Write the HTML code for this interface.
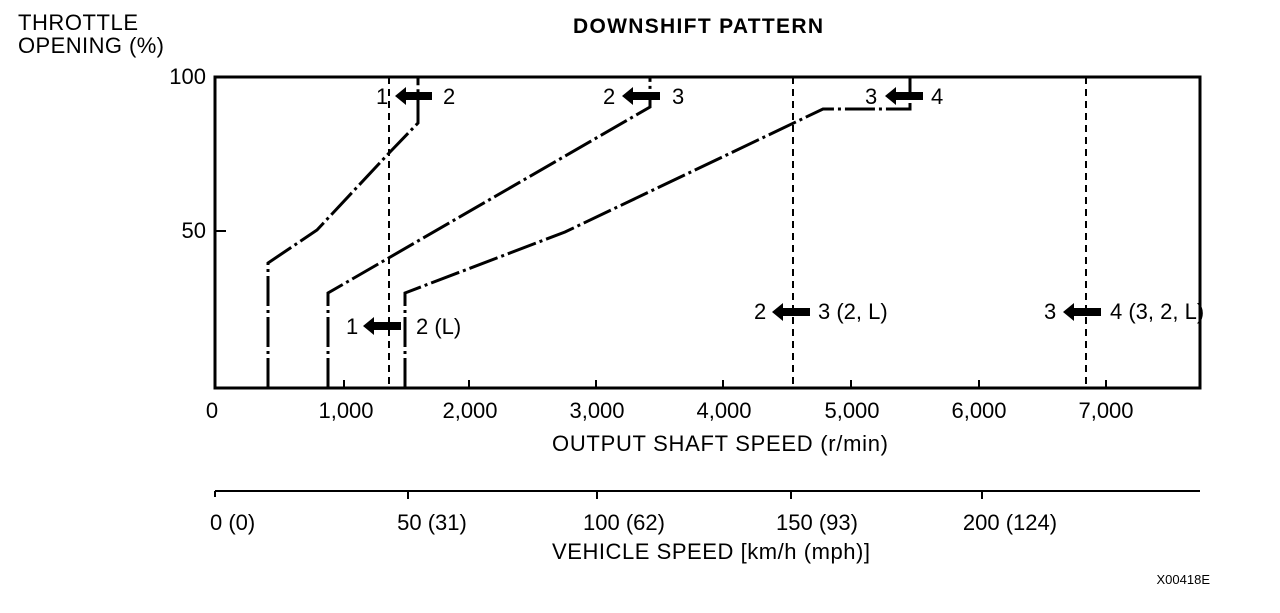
<!DOCTYPE html>
<html><head><meta charset="utf-8"><style>
html,body{margin:0;padding:0;background:#fff}
svg text{font-family:"Liberation Sans",Arial,sans-serif;font-size:22px;fill:#000}
</style></head><body>
<svg width="1280" height="608" viewBox="0 0 1280 608" xmlns="http://www.w3.org/2000/svg">
<text x="18" y="30" textLength="120">THROTTLE</text>
<text x="18" y="53" textLength="146">OPENING (%)</text>
<text x="573" y="33" style="font-weight:bold;font-size:21px" textLength="250">DOWNSHIFT PATTERN</text>
<text x="206" y="84" text-anchor="end">100</text>
<text x="206" y="238" text-anchor="end">50</text>
<g stroke="#000" fill="none">
<rect x="215" y="77" width="985" height="311" stroke-width="3"/>
<line x1="215" y1="231" x2="226" y2="231" stroke-width="2"/>
<g stroke-width="2"><line x1="344" y1="388" x2="344" y2="380"/><line x1="469" y1="388" x2="469" y2="380"/><line x1="596" y1="388" x2="596" y2="380"/><line x1="723" y1="388" x2="723" y2="380"/><line x1="851" y1="388" x2="851" y2="380"/><line x1="979" y1="388" x2="979" y2="380"/><line x1="1106" y1="388" x2="1106" y2="380"/></g>
<g stroke-width="3" stroke-dasharray="30 4 3 4">
<polyline points="268,388 268,263 317,230 390,152 418,123 418,77"/>
<polyline points="328,388 328,293 650,107 650,77"/>
<polyline points="405,388 405,293 565,232 823,109 910,109 910,77"/>
</g>
<g stroke-width="2" stroke-dasharray="7 5">
<line x1="389" y1="77" x2="389" y2="388"/>
<line x1="793" y1="77" x2="793" y2="388"/>
<line x1="1086" y1="77" x2="1086" y2="388"/>
</g>
<line x1="215" y1="491" x2="1200" y2="491" stroke-width="2"/>
<g stroke-width="2"><line x1="215" y1="491" x2="215" y2="497"/><line x1="408" y1="491" x2="408" y2="499"/><line x1="597" y1="491" x2="597" y2="499"/><line x1="791" y1="491" x2="791" y2="499"/><line x1="982" y1="491" x2="982" y2="499"/></g>
</g>
<g fill="#000">
<path d="M395,96 l11,-9 v5 h26 v8 h-26 v5z"/>
<path d="M622,96 l11,-9 v5 h27 v8 h-27 v5z"/>
<path d="M885,96 l11,-9 v5 h27 v8 h-27 v5z"/>
<path d="M363,326 l11,-9 v5 h27 v8 h-27 v5z"/>
<path d="M772,312 l11,-9 v5 h27 v8 h-27 v5z"/>
<path d="M1063,312 l11,-9 v5 h27 v8 h-27 v5z"/>
</g>
<text x="376" y="104">1</text><text x="443" y="104">2</text>
<text x="603" y="104">2</text><text x="672" y="104">3</text>
<text x="865" y="104">3</text><text x="931" y="104">4</text>
<text x="346" y="334">1</text><text x="416" y="334">2 (L)</text>
<text x="754" y="319">2</text><text x="818" y="319">3 (2, L)</text>
<text x="1044" y="319">3</text><text x="1110" y="319">4 (3, 2, L)</text>
<g text-anchor="middle">
<text x="212" y="418">0</text><text x="346" y="418">1,000</text><text x="470" y="418">2,000</text><text x="597" y="418">3,000</text><text x="724" y="418">4,000</text><text x="852" y="418">5,000</text><text x="979" y="418">6,000</text><text x="1106" y="418">7,000</text>
<text x="432" y="530">50 (31)</text><text x="624" y="530">100 (62)</text><text x="817" y="530">150 (93)</text><text x="1010" y="530">200 (124)</text>
</g>
<text x="552" y="451" textLength="336">OUTPUT SHAFT SPEED (r/min)</text>
<text x="552" y="559" textLength="318">VEHICLE SPEED [km/h (mph)]</text>
<text x="210" y="530">0 (0)</text>
<text x="1210" y="584" text-anchor="end" style="font-size:13px">X00418E</text>
</svg>
</body></html>
